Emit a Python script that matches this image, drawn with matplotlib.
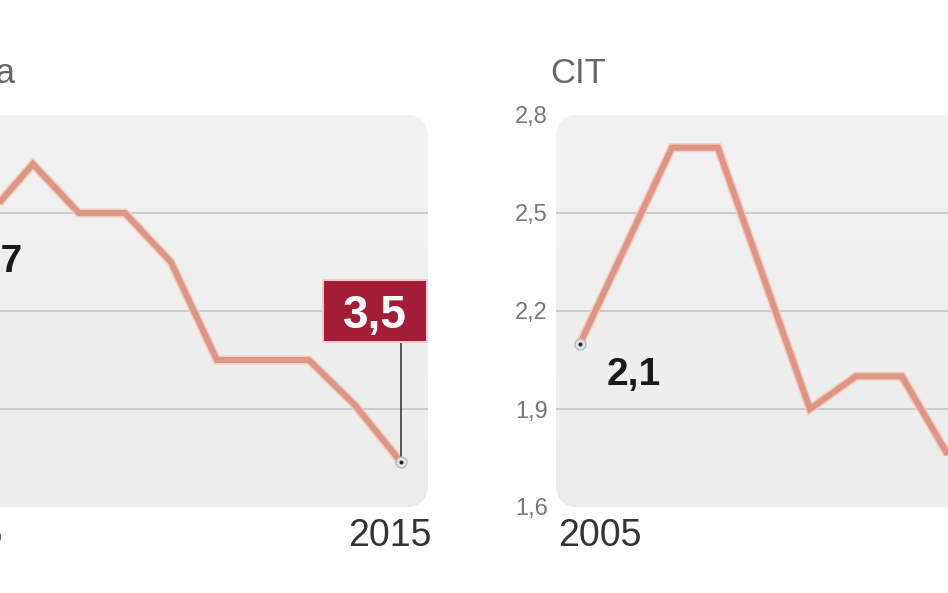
import matplotlib
matplotlib.use('Agg')
import matplotlib.pyplot as plt
import matplotlib.transforms as mtransforms
from matplotlib.patches import FancyBboxPatch, Rectangle
from matplotlib import font_manager
import numpy as np

names = {f.name for f in font_manager.fontManager.ttflist}
NARROW = 'Liberation Sans Narrow' if 'Liberation Sans Narrow' in names else 'Liberation Sans'
SANS = 'Liberation Sans'

# ---------------- data ----------------
left_title = 'Akcyza'
left_years = [2005, 2006, 2007, 2008, 2009, 2010, 2011, 2012, 2013, 2014, 2015]
left_values = [4.71, 4.78, 5.05, 4.80, 4.80, 4.55, 4.05, 4.05, 4.05, 3.82, 3.53]
left_ticks = [3.3, 3.8, 4.3, 4.8, 5.3]
left_tick_labels = ['3,3', '3,8', '4,3', '4,8', '5,3']
left_first_label = '4,7'
left_last_label = '3,5'

right_title = 'CIT'
right_years = [2005, 2006, 2007, 2008, 2009, 2010, 2011, 2012, 2013]
right_values = [2.10, 2.40, 2.70, 2.70, 2.30, 1.90, 2.00, 2.00, 1.76]
right_ticks = [1.6, 1.9, 2.2, 2.5, 2.8]
right_tick_labels = ['1,6', '1,9', '2,2', '2,5', '2,8']
right_first_label = '2,1'

year_start_label = '2005'
year_end_label = '2015'
x_range = (2005 - 0.52, 2015 + 0.59)

# ---------------- style ----------------
W, H = 948, 593
fig = plt.figure(figsize=(W / 100, H / 100), dpi=100)
fig.patch.set_facecolor('white')

box_w = 511
box_h = 392
box_bottom = (H - 507) / H
ax_l = fig.add_axes([-83 / W, box_bottom, box_w / W, box_h / H])
ax_r = fig.add_axes([556 / W, box_bottom, box_w / W, box_h / H])

LINE_OUT = '#f4cdbd'
LINE_IN = '#dd9686'


def px(v):
    return v * 0.72  # pixels -> points at 100 dpi


def setup(ax, years, values, ticks, tick_labels):
    ax.set_facecolor('none')
    for s in ax.spines.values():
        s.set_visible(False)
    patch = FancyBboxPatch((0, 0), 1, 1, boxstyle='round,pad=0,rounding_size=0.045',
                           mutation_aspect=box_w / box_h, transform=ax.transAxes,
                           facecolor='#eeeeee', edgecolor='none', zorder=0)
    ax.add_patch(patch)
    grad = np.linspace(0, 1, 256).reshape(-1, 1)
    cmap = matplotlib.colors.LinearSegmentedColormap.from_list('g', ['#f2f2f2', '#ececec'])
    im = ax.imshow(grad, extent=(0, 1, 0, 1), origin='upper', transform=ax.transAxes,
                   cmap=cmap, aspect='auto', zorder=0.5, interpolation='bilinear')
    im.set_clip_path(patch)
    for t in ticks[1:-1]:
        ax.axhline(t, color='#cbcbcb', lw=px(2), zorder=1)
    ax.plot(years, values, color=LINE_OUT, lw=px(9), solid_joinstyle='miter',
            solid_capstyle='butt', zorder=2)
    ax.plot(years, values, color=LINE_IN, lw=px(6), solid_joinstyle='miter',
            solid_capstyle='butt', zorder=3)
    ax.set_xlim(*x_range)
    ax.set_ylim(ticks[0], ticks[-1])
    ax.set_yticks(ticks)
    ax.set_yticklabels(tick_labels, family=SANS)
    ax.set_xticks([])
    ax.tick_params(axis='y', length=0, pad=px(8), labelsize=17, labelcolor='#777777')


def ring(ax, x, y):
    ax.plot([x], [y], 'o', ms=px(11), mfc='#e2e2e2', mec='#b8b8b8', mew=1, zorder=5)
    ax.plot([x], [y], 'o', ms=px(4), mfc='#222222', mec='none', zorder=6)


setup(ax_l, left_years, left_values, left_ticks, left_tick_labels)
setup(ax_r, right_years, right_values, right_ticks, right_tick_labels)

# first-point labels
for ax, yrs, vals, lab in [(ax_l, left_years, left_values, left_first_label),
                           (ax_r, right_years, right_values, right_first_label)]:
    ring(ax, yrs[0], vals[0])
    ax.annotate(lab, xy=(yrs[0], vals[0]), xytext=(px(27), px(-31)),
                textcoords='offset points', ha='left', va='center',
                fontsize=28, fontweight='bold', family=SANS, color='#1a1a1a', zorder=7)

# last-point callout (left panel)
ring(ax_l, left_years[-1], left_values[-1])
off = fig.dpi_scale_trans + mtransforms.ScaledTranslation(left_years[-1], left_values[-1], ax_l.transData)
ax_l.plot([0, 0], [0.05, 1.20], color='#2a2a2a', lw=px(1.5), transform=off, zorder=4, clip_on=False)
ax_l.add_patch(Rectangle((-0.78, 1.20), 1.04, 0.62, transform=off, facecolor='#a31d37',
                         edgecolor='#f3c9c9', lw=px(2), zorder=8, clip_on=False))
ax_l.text(-0.26, 1.51, left_last_label, transform=off, ha='center', va='center_baseline',
          fontsize=33, fontweight='bold', family=SANS, color='white', zorder=9)

# titles
ax_r.text(-6 / box_w, 1 + 32 / box_h, right_title, transform=ax_r.transAxes, ha='left',
          va='baseline', fontsize=25, family=NARROW, color='#666666')
fig.text(16 / W, (H - 83) / H, left_title, ha='right', va='baseline', fontsize=25,
         family=NARROW, color='#666666')

# year labels at box corners
for ax in (ax_l, ax_r):
    ax.text(2 / box_w, -39 / box_h, year_start_label, transform=ax.transAxes, ha='left',
            va='baseline', fontsize=27, family=SANS, color='#333333')
    ax.text(1 + 4 / box_w, -39 / box_h, year_end_label, transform=ax.transAxes, ha='right',
            va='baseline', fontsize=27, family=SANS, color='#333333')

fig.savefig('out.png', dpi=100)
